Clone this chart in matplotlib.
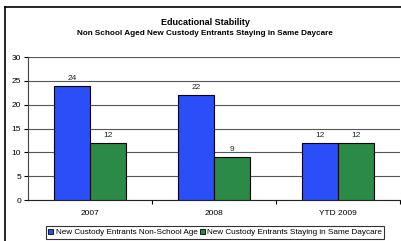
import numpy as np
import matplotlib
matplotlib.use("Agg")
import matplotlib.pyplot as plt
from matplotlib.lines import Line2D
from matplotlib.patches import Patch

plt.rcParams["font.family"] = ["Liberation Sans", "DejaVu Sans"]

categories = ["2007", "2008", "YTD 2009"]
non_school = [24, 22, 12]
same_daycare = [12, 9, 12]
series_names = ["New Custody Entrants Non-School Age",
                "New Custody Entrants Staying in Same Daycare"]

blue = "#2a4ef8"
green = "#2a8a46"

fig = plt.figure(figsize=(4.02, 2.41), dpi=100)
ax = fig.add_axes([0.0697, 0.170, 0.925, 0.593])

x = np.arange(len(categories))
w = 0.29
b1 = ax.bar(x - w / 2, non_school, w, color=blue, edgecolor="black", lw=0.8, zorder=3)
b2 = ax.bar(x + w / 2, same_daycare, w, color=green, edgecolor="black", lw=0.8, zorder=3)

for bars in (b1, b2):
    for r in bars:
        ax.text(r.get_x() + r.get_width() / 2, r.get_height() + 0.8, f"{int(r.get_height())}",
                ha="center", va="bottom", fontsize=6, color="#222222")

ax.set_xlim(-0.5, 2.5)
ax.set_ylim(0, 30)
ax.set_yticks(range(0, 31, 5))
ax.yaxis.grid(True, color="#555555", lw=0.8, zorder=0)
ax.set_xticks([0.5, 1.5, 2.5], minor=False)
ax.set_xticklabels([])
ax.set_xticks(x, minor=True)
ax.set_xticklabels(categories, minor=True)
ax.tick_params(axis="x", which="minor", length=0, pad=7, labelsize=6)
ax.tick_params(axis="x", which="major", length=3, width=0.8)
ax.tick_params(axis="y", length=3, width=0.8, labelsize=6, pad=2)
for s in ["top", "right"]:
    ax.spines[s].set_visible(False)
ax.spines["left"].set_color("#444444")
ax.spines["bottom"].set_color("#222222")

fig.text(0.51, 0.905, "Educational Stability", ha="center", va="center",
         fontsize=6.5, fontweight="bold")
fig.text(0.51, 0.862, "Non School Aged New Custody Entrants Staying in Same Daycare",
         ha="center", va="center", fontsize=5.9, fontweight="bold")

handles = [Patch(facecolor=blue, edgecolor="black", lw=0.6),
           Patch(facecolor=green, edgecolor="black", lw=0.6)]
leg = fig.legend(handles, series_names, loc="center", bbox_to_anchor=(0.535, 0.035),
                 ncol=2, fontsize=5.9, frameon=True, fancybox=False, handlelength=0.6,
                 handleheight=0.6, handletextpad=0.3, columnspacing=0.3,
                 borderpad=0.3, borderaxespad=0)
leg.get_frame().set_edgecolor("black")
leg.get_frame().set_linewidth(0.8)

# outer chart border
fig.add_artist(Line2D([0.0125, 1.0], [0.971, 0.971], color="black", lw=1.2))
fig.add_artist(Line2D([0.0125, 0.0125], [0.0, 0.971], color="black", lw=1.2))

fig.savefig("out.png", dpi=100)
